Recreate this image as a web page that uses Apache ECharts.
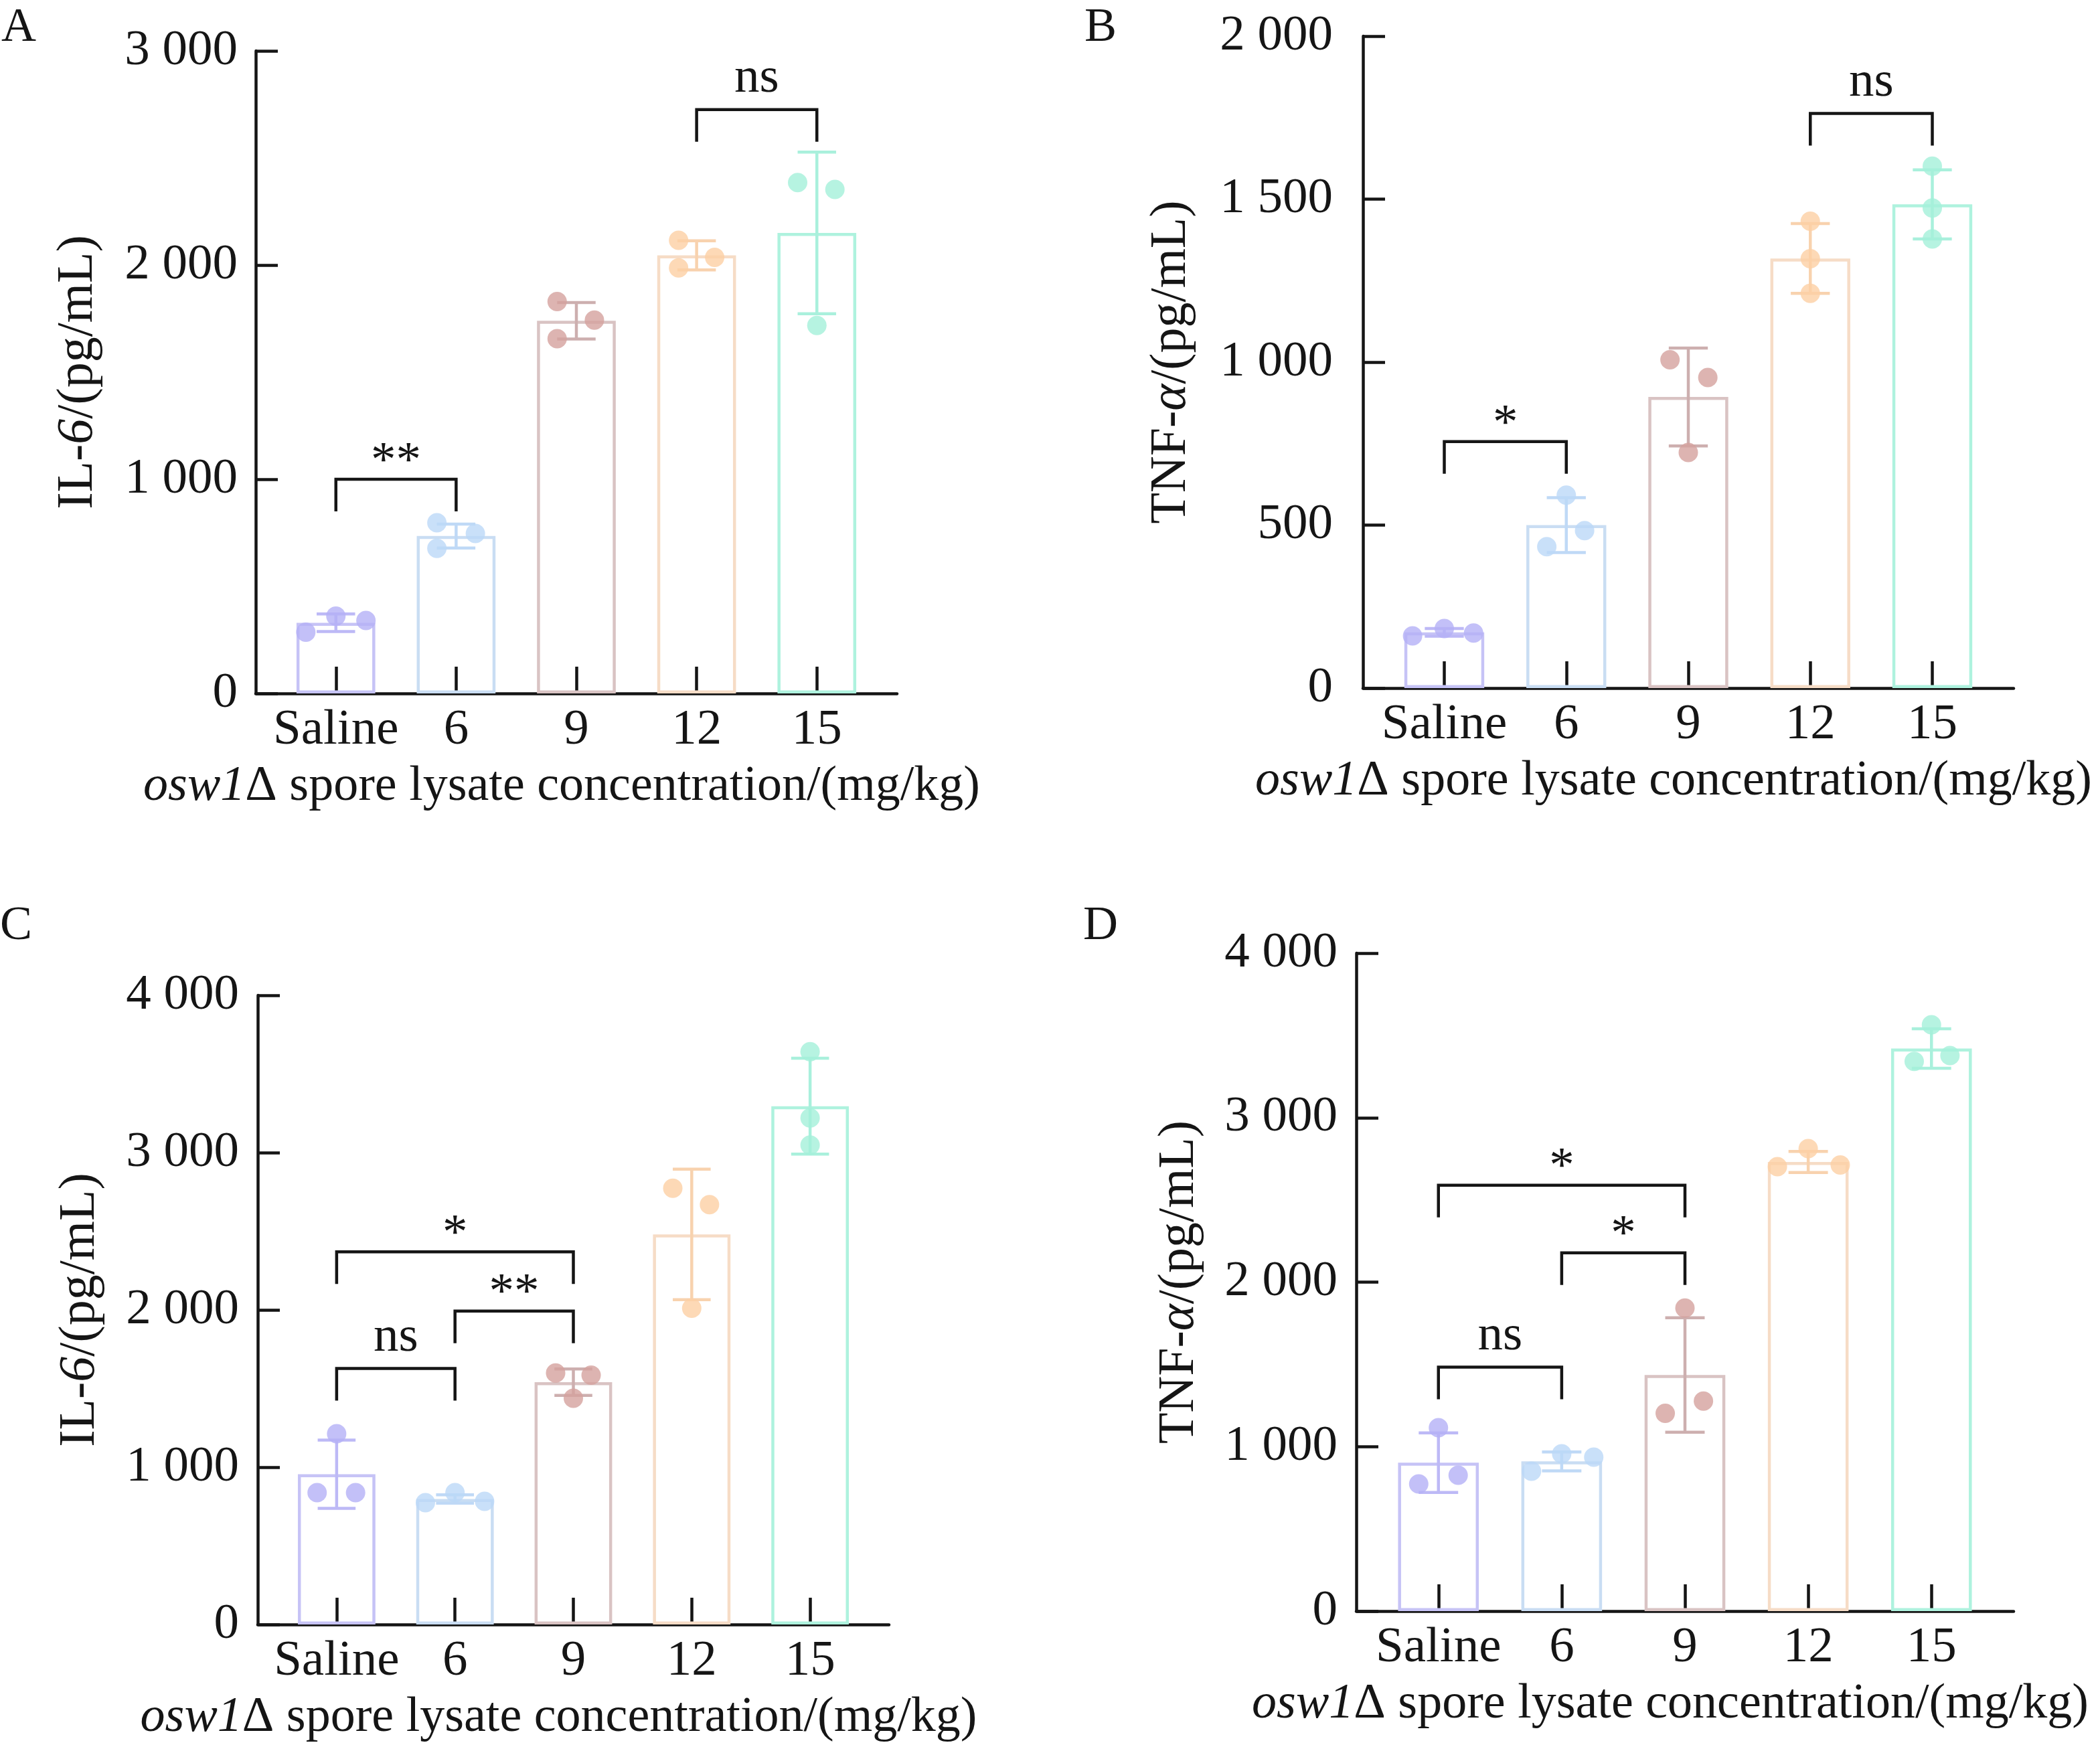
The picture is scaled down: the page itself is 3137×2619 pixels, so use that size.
<!DOCTYPE html>
<html>
<head>
<meta charset="utf-8">
<title>osw1 spore lysate - IL-6 / TNF-α</title>
<script src="https://cdn.jsdelivr.net/npm/echarts@6/dist/echarts.min.js"></script>
<style>
  html, body { margin: 0; padding: 0; background: #fff; }
  #chart { width: 3137px; height: 2619px; }
</style>
</head>
<body>
<div id="chart"></div>
<script>
// x categories (mg/kg)
const CATS = ['Saline', '6', '9', '12', '15'];

// panel A: IL-6
const A_MEAN = [330, 735, 1740, 2045, 2150];
const A_SD = [41, 56, 85, 68, 377];
const A_DOTS = [[286, 361, 341], [797, 677, 747], [1830, 1656, 1743], [2116, 1987, 2036], [2385, 2353, 1718]];
const A_JITTER = [[-0.25, 0, 0.25], [-0.16, -0.16, 0.16], [-0.16, -0.16, 0.15], [-0.15, -0.15, 0.15], [-0.16, 0.15, 0]];
const A_SIG = [[0, 1, 1000, '**'], [3, 4, 2726, 'ns']];

// panel B: TNF-α
const B_MEAN = [171, 500, 893, 1318, 1484];
const B_SD = [12, 84, 150, 107, 106];
const B_DOTS = [[160, 183, 169], [592, 483, 434], [1007, 953, 723], [1432, 1317, 1211], [1601, 1473, 1378]];
const B_JITTER = [[-0.26, 0, 0.24], [0, 0.15, -0.16], [-0.15, 0.16, 0], [0, 0, 0], [0, 0, 0]];
const B_SIG = [[0, 1, 756, '*'], [3, 4, 1763, 'ns']];

// panel C: IL-6
const C_MEAN = [955, 798, 1540, 2480, 3295];
const C_SD = [217, 27, 84, 415, 305];
const C_DOTS = [[1213, 838, 838], [774, 838, 783], [1599, 1585, 1438], [2773, 2669, 2011], [3642, 3220, 3048]];
const C_JITTER = [[0, -0.165, 0.16], [-0.25, 0, 0.25], [-0.15, 0.15, 0], [-0.16, 0.15, 0], [0, 0, 0]];
const C_SIG = [[0, 1, 1628, 'ns'], [1, 2, 1993, '**'], [0, 2, 2369, '*']];

// panel D: TNF-α
const D_MEAN = [902, 910, 1435, 2730, 3420];
const D_SD = [181, 57, 348, 64, 120];
const D_DOTS = [[1115, 773, 826], [850, 956, 936], [1842, 1202, 1277], [2812, 2702, 2712], [3565, 3342, 3377]];
const D_JITTER = [[0, -0.16, 0.16], [-0.245, 0, 0.26], [0, -0.16, 0.15], [0, -0.25, 0.26], [0, -0.14, 0.15]];
const D_SIG = [[0, 1, 1483, 'ns'], [1, 2, 2178, '*'], [0, 2, 2589, '*']];

const BAR_BORDER = ['#c6c3f6', '#c9ddf3', '#d9c3c3', '#f6dcc6', '#aef2de'];
const ERR_COLOR = ['#bdb9f6', '#bfd9f6', '#cdafaf', '#f8d2ae', '#a9f0dc'];
const DOT_COLOR = ['#b4b0f6', '#bcd8f8', '#d4a19e', '#fdd0a4', '#a4f0da'];

const FONT = '"Liberation Serif", "Times New Roman", serif';
const INK = '#151515';
const X_MIN = -2 / 3, X_MAX = 14 / 3;

const PANELS = [
  { key: 'A', mean: A_MEAN, sd: A_SD, dots: A_DOTS, jit: A_JITTER, sig: A_SIG, max: 3000, step: 1000,
    name: '{n|IL-}{i|6}{n|/(pg/mL)}', grid: { left: 382, top: 76, width: 958, height: 960 }, labMargin: 27, nameGap: 227, tag: [2, 6] },
  { key: 'B', mean: B_MEAN, sd: B_SD, dots: B_DOTS, jit: B_JITTER, sig: B_SIG, max: 2000, step: 500,
    name: '{n|TNF-}{i|α}{n|/(pg/mL)}', grid: { left: 2036, top: 54, width: 972, height: 974 }, labMargin: 45, nameGap: 248, tag: [1620, 6] },
  { key: 'C', mean: C_MEAN, sd: C_SD, dots: C_DOTS, jit: C_JITTER, sig: C_SIG, max: 4000, step: 1000,
    name: '{n|IL-}{i|6}{n|/(pg/mL)}', grid: { left: 385, top: 1487, width: 943, height: 940 }, labMargin: 28, nameGap: 227, tag: [0, 1348] },
  { key: 'D', mean: D_MEAN, sd: D_SD, dots: D_DOTS, jit: D_JITTER, sig: D_SIG, max: 4000, step: 1000,
    name: '{n|TNF-}{i|α}{n|/(pg/mL)}', grid: { left: 2026, top: 1424, width: 982, height: 983 }, labMargin: 28, nameGap: 226, tag: [1618, 1348] }
];

function fmtThousands(v) {
  if (v < 1000) return String(v);
  const r = v % 1000;
  return Math.floor(v / 1000) + ' ' + String(r).padStart(3, '0');
}

const rich = {
  n: { fontFamily: FONT, fontSize: 76, color: INK },
  i: { fontFamily: FONT, fontSize: 76, color: INK, fontStyle: 'italic' }
};
const richX = {
  n: { fontFamily: FONT, fontSize: 74, color: INK },
  i: { fontFamily: FONT, fontSize: 74, color: INK, fontStyle: 'italic' }
};

const grids = [], xAxes = [], yAxes = [], series = [], graphics = [];

PANELS.forEach((p, k) => {
  grids.push(p.grid);
  const band = p.grid.width / (X_MAX - X_MIN);

  xAxes.push({
    gridIndex: k, type: 'value', min: X_MIN, max: X_MAX,
    splitLine: { show: false },
    axisLine: { show: true, onZero: false, lineStyle: { color: INK, width: 4.5 } },
    axisTick: { show: true, inside: true, length: 40, lineStyle: { color: INK, width: 4.5 }, customValues: [0, 1, 2, 3, 4] },
    axisLabel: { customValues: [0, 1, 2, 3, 4], formatter: v => CATS[Math.round(v)], margin: 18,
      fontFamily: FONT, fontSize: 75, color: INK },
    name: '{i|osw1}{n|Δ spore lysate concentration/(mg/kg)}',
    nameLocation: 'middle', nameGap: 103,
    nameTextStyle: { rich: richX, padding: [0, 44, 0, 0] }
  });

  yAxes.push({
    gridIndex: k, type: 'value', min: 0, max: p.max, interval: p.step,
    splitLine: { show: false },
    axisLine: { show: true, onZero: false, lineStyle: { color: INK, width: 4.5 } },
    axisTick: { show: true, inside: true, length: 33, lineStyle: { color: INK, width: 4.5 } },
    axisLabel: { formatter: fmtThousands, margin: p.labMargin, fontFamily: FONT, fontSize: 75, color: INK },
    name: p.name, nameLocation: 'middle', nameGap: p.nameGap,
    nameTextStyle: { rich: rich }
  });

  // hollow bars (means)
  series.push({
    type: 'bar', xAxisIndex: k, yAxisIndex: k, barWidth: band * 0.655, z: 2,
    data: p.mean.map((m, i) => ({
      value: [i, m],
      itemStyle: { color: 'rgba(255,255,255,0)', borderColor: BAR_BORDER[i], borderWidth: 4.5 }
    }))
  });

  // error bars (mean ± SD)
  series.push({
    type: 'custom', xAxisIndex: k, yAxisIndex: k, z: 3,
    data: p.mean.map((m, i) => [i, m, p.sd[i]]),
    renderItem: function (params, api) {
      const i = api.value(0), m = api.value(1), s = api.value(2);
      const hi = api.coord([i, m + s]);
      const lo = api.coord([i, m - s]);
      const hw = band * 0.16;
      const style = { stroke: ERR_COLOR[i], lineWidth: 4.5 };
      return {
        type: 'group',
        children: [
          { type: 'line', shape: { x1: hi[0], y1: hi[1], x2: lo[0], y2: lo[1] }, style },
          { type: 'line', shape: { x1: hi[0] - hw, y1: hi[1], x2: hi[0] + hw, y2: hi[1] }, style },
          { type: 'line', shape: { x1: lo[0] - hw, y1: lo[1], x2: lo[0] + hw, y2: lo[1] }, style }
        ]
      };
    }
  });

  // individual points
  const pts = [];
  p.dots.forEach((vals, i) => {
    vals.forEach((v, j) => {
      pts.push({ value: [i + p.jit[i][j], v], itemStyle: { color: DOT_COLOR[i] } });
    });
  });
  series.push({
    type: 'scatter', xAxisIndex: k, yAxisIndex: k, z: 4,
    symbolSize: 29, data: pts
  });

  // significance brackets
  series.push({
    type: 'custom', xAxisIndex: k, yAxisIndex: k, z: 5,
    data: p.sig.map(s => [s[0], s[1], s[2]]),
    renderItem: function (params, api) {
      const a = api.coord([api.value(0), api.value(2)]);
      const b = api.coord([api.value(1), api.value(2)]);
      const txt = p.sig[params.dataIndex][3];
      const leg = 48;
      const isStar = txt.indexOf('*') >= 0;
      return {
        type: 'group',
        children: [
          { type: 'polyline',
            shape: { points: [[a[0], a[1] + leg], [a[0], a[1]], [b[0], b[1]], [b[0], b[1] + leg]] },
            style: { stroke: INK, lineWidth: 4.5, fill: null } },
          { type: 'text',
            style: { text: txt, x: (a[0] + b[0]) / 2, y: a[1] - (isStar ? 25 : 46),
              textAlign: 'center', textVerticalAlign: 'middle',
              font: '75px ' + FONT, fill: INK } }
        ]
      };
    }
  });

  graphics.push({
    type: 'text', left: p.tag[0], top: p.tag[1],
    style: { text: p.key, font: '72px ' + FONT, fill: INK }
  });
});

const chart = echarts.init(document.getElementById('chart'), null, { renderer: 'canvas' });
chart.setOption({
  animation: false,
  backgroundColor: '#ffffff',
  grid: grids,
  xAxis: xAxes,
  yAxis: yAxes,
  series: series,
  graphic: graphics
});
</script>
</body>
</html>
